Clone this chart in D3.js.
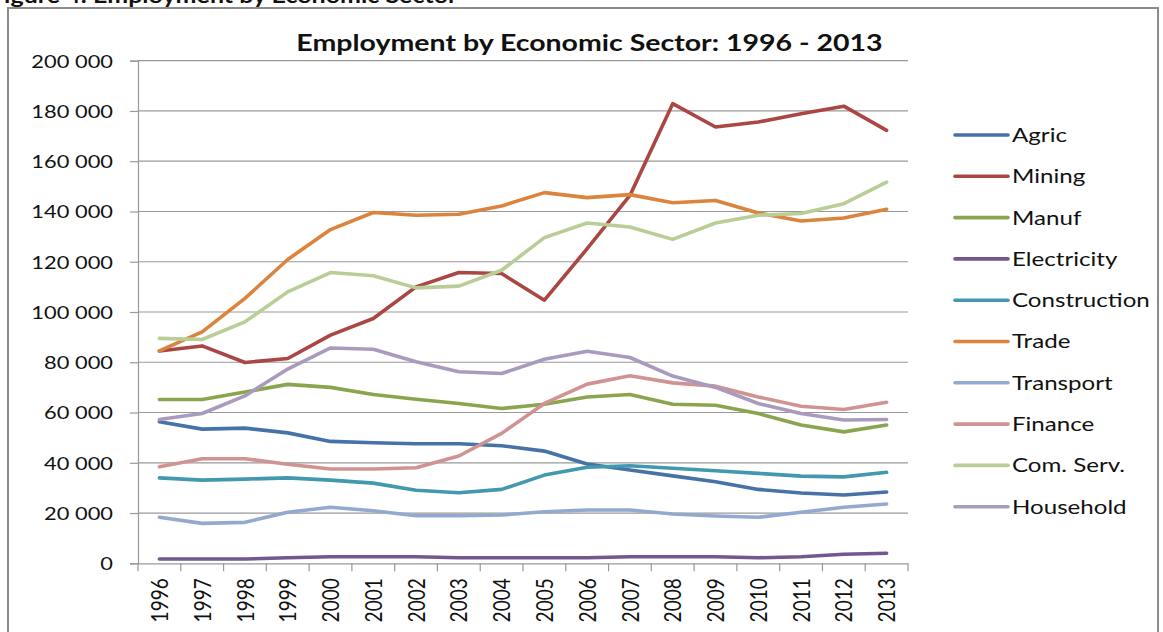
<!DOCTYPE html>
<html><head><meta charset="utf-8">
<script src="https://cdn.jsdelivr.net/npm/d3@7/dist/d3.min.js"></script>
<style>
html,body{margin:0;padding:0;background:#fff;overflow:hidden}
text{font-family:Lato,"Open Sans",sans-serif;fill:#111}
</style></head>
<body>
<svg id="chart" width="1163" height="632"></svg>
<script>
const years = ["1996","1997","1998","1999","2000","2001","2002","2003","2004","2005","2006","2007","2008","2009","2010","2011","2012","2013"];
const yTicks = [0,20000,40000,60000,80000,100000,120000,140000,160000,180000,200000];
const seriesNames = ["Agric","Mining","Manuf","Electricity","Construction","Trade","Transport","Finance","Com. Serv.","Household"];
const seriesColors = ["#4572A7","#AA4643","#89A54E","#71588F","#4198AF","#DB843D","#93A9CF","#D19392","#B9CD96","#A99BBD"];
const agric = [56300,53400,53800,51900,48500,47950,47560,47560,46800,44650,39500,37100,34800,32450,29400,27950,27150,28350];
const mining = [84500,86500,79900,81500,90800,97400,110000,115700,115300,104700,125200,146400,182900,173600,175600,178900,181900,172300];
const manuf = [65200,65200,68200,71200,70000,67200,65300,63600,61600,63300,66200,67200,63300,62900,59600,55000,52300,55000];
const electricity = [1700,1700,1700,2200,2600,2600,2600,2200,2200,2200,2200,2600,2600,2600,2200,2600,3600,4000];
const construction = [34000,33100,33500,34000,33100,31900,29100,28100,29400,35100,38200,38800,37800,36800,35800,34700,34400,36200];
const trade = [84500,92100,105400,120900,132800,139600,138500,138900,142200,147500,145500,146700,143500,144400,139400,136200,137400,140900];
const transport = [18300,15900,16300,20300,22300,20900,18900,18900,19200,20500,21200,21200,19600,18800,18300,20300,22300,23600];
const finance = [38400,41600,41600,39400,37500,37500,38000,42700,51700,63600,71300,74600,71800,70500,66200,62500,61200,64100];
const comServ = [89500,89050,96100,108000,115700,114400,109600,110300,116600,129600,135400,133800,128900,135400,138500,139200,143100,151700];
const household = [57200,59600,66600,77300,85700,85200,80200,76200,75500,81200,84400,81900,74500,70000,63600,59600,57000,57200];
const seriesValues = [agric,mining,manuf,electricity,construction,trade,transport,finance,comServ,household];

const SX = 1.25;
const svg = d3.select("#chart");
const L = 138, R = 908, T = 60.7, B = 563.3;

// outer frame
svg.append("rect").attr("x",8).attr("y",8).attr("width",1150).attr("height",640)
  .attr("fill","none").attr("stroke","#8c8c8c").attr("stroke-width",2);
// cut-off caption at top
svg.append("text").attr("transform",`translate(-10,3) scale(${SX},1)`)
  .attr("font-weight","bold").attr("font-size",20).text("Figure 4: Employment by Economic Sector");

const x = d3.scaleBand().domain(years).range([L,R]).padding(0);
const y = d3.scaleLinear().domain([0,200000]).range([B,T]);

// gridlines
svg.append("g").selectAll("line").data(yTicks.filter(d=>d>0)).join("line")
  .attr("x1",L).attr("x2",R).attr("y1",d=>y(d)).attr("y2",d=>y(d))
  .attr("stroke","#999").attr("stroke-width",1.2);

// y axis
const fmt = d => d3.format(",")(d).replace(/,/g," ");
const ya = svg.append("g").attr("transform",`translate(${L},0)`)
  .call(d3.axisLeft(y).tickValues(yTicks).tickSize(8).tickPadding(0).tickFormat(fmt));
ya.select(".domain").attr("stroke","#999").attr("stroke-width",1.2);
ya.selectAll(".tick line").attr("stroke","#999").attr("stroke-width",1.2);
ya.selectAll(".tick text").attr("x",0).attr("dy","0.36em")
  .attr("transform",`translate(-25,0) scale(${SX},1)`)
  .attr("font-size",17.5).attr("font-family","Lato").attr("fill","#111");

// x axis
const xa = svg.append("g").attr("transform",`translate(0,${B})`)
  .call(d3.axisBottom(x).tickSize(0).tickPadding(0));
xa.select(".domain").attr("stroke","#999").attr("stroke-width",1.2);
xa.selectAll(".tick text")
  .attr("transform",`translate(0,15) scale(${SX},1) rotate(-90)`)
  .attr("y",0).attr("dy","0.36em").attr("text-anchor","end")
  .attr("font-size",19).attr("font-family","Lato").attr("fill","#111");
const bounds = years.map(d=>x(d)).concat([x(years[years.length-1])+x.bandwidth()]);
svg.append("g").selectAll("line").data(bounds).join("line")
  .attr("x1",d=>d).attr("x2",d=>d).attr("y1",B).attr("y2",B+8)
  .attr("stroke","#999").attr("stroke-width",1.2);

// lines
const line = d3.line().x((d,i)=>x(years[i])+x.bandwidth()/2).y(d=>y(d));
svg.append("g").selectAll("path").data(seriesValues).join("path")
  .attr("d",d=>line(d)).attr("fill","none")
  .attr("stroke",(d,i)=>seriesColors[i]).attr("stroke-width",3.6)
  .attr("stroke-linejoin","round").attr("stroke-linecap","round");

// title
svg.append("text").attr("transform",`translate(589.5,51) scale(${SX},1)`)
  .attr("text-anchor","middle").attr("font-weight","bold").attr("font-size",22.8)
  .text("Employment by Economic Sector: 1996 - 2013");

// legend
const lg = svg.append("g").selectAll("g").data(seriesNames).join("g")
  .attr("transform",(d,i)=>`translate(955,${135+i*41.3})`);
lg.append("line").attr("x1",0).attr("x2",53).attr("y1",0).attr("y2",0)
  .attr("stroke",(d,i)=>seriesColors[i]).attr("stroke-width",3.6).attr("stroke-linecap","round");
lg.append("text").attr("transform",`translate(57,0) scale(${SX},1)`)
  .attr("dy","0.36em").attr("font-size",19.3).text(d=>d);
</script>
</body></html>
